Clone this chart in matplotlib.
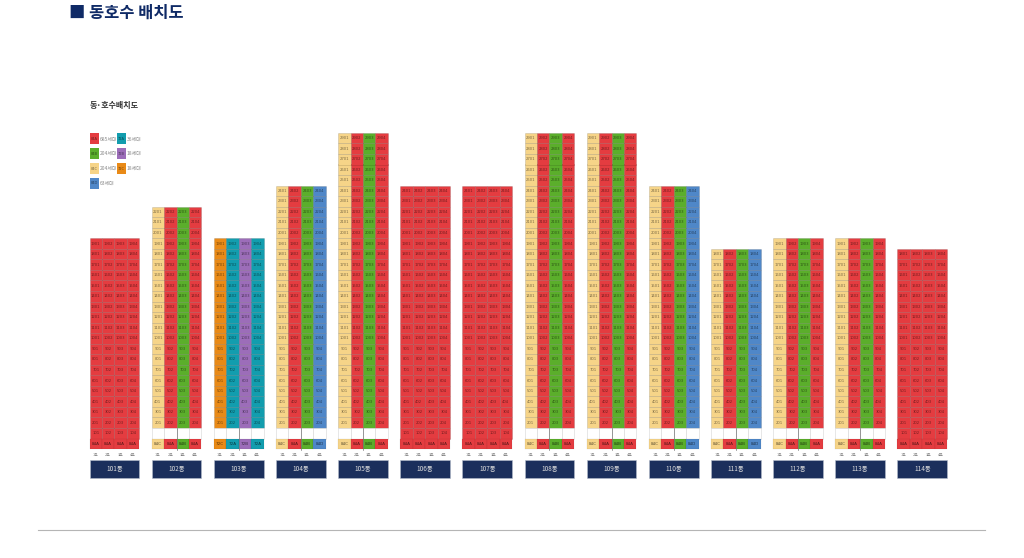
import matplotlib
matplotlib.use('Agg')
import matplotlib.pyplot as plt
from matplotlib.patches import Rectangle

plt.rcParams['font.family'] = ['Noto Sans CJK KR', 'DejaVu Sans']

# 동 정보
dong_names = ['101동', '102동', '103동', '104동', '105동', '106동', '107동',
              '108동', '109동', '110동', '111동', '112동', '113동', '114동']
low_floors = [1, 2, 2, 2, 2, 1, 1, 2, 2, 2, 2, 2, 2, 1]
top_floors = [19, 22, 19, 24, 29, 24, 24, 29, 29, 24, 18, 19, 19, 18]
dong_types = [
    ['84A', '84A', '84A', '84A'],
    ['84C', '84A', '84B', '84A'],
    ['72C', '72A', '72B', '72A'],
    ['84C', '84A', '84B', '84D'],
    ['84C', '84A', '84B', '84A'],
    ['84A', '84A', '84A', '84A'],
    ['84A', '84A', '84A', '84A'],
    ['84C', '84A', '84B', '84A'],
    ['84C', '84A', '84B', '84A'],
    ['84C', '84A', '84B', '84D'],
    ['84C', '84A', '84B', '84D'],
    ['84C', '84A', '84B', '84A'],
    ['84C', '84A', '84B', '84A'],
    ['84A', '84A', '84A', '84A'],
]
ho_labels = ['1호', '2호', '3호', '4호']

# 타입별 색상, 세대수
type_colors = {'84A': '#E43C40', '84B': '#5BAE2B', '84C': '#F6D488', '84D': '#4F87C8',
               '72A': '#129DAE', '72B': '#9C6DB9', '72C': '#E98A17'}
legend_left = [('84A', '685세대'), ('84B', '204세대'), ('84C', '204세대'), ('84D', '63세대')]
legend_right = [('72A', '36세대'), ('72B', '18세대'), ('72C', '18세대')]

NAVY = '#1B2F5C'
COL_PX = 12.43
ROW_PX = 10.54

fig = plt.figure(figsize=(10.24, 5.58), dpi=100)
# 축 단위: x는 세대 칸, y는 층. 픽셀에 맞게 범위 설정
ax = fig.add_axes([0, 0, 1, 1])
ax.set_xlim(-89.5 / COL_PX, (1024 - 89.5) / COL_PX)
ax.set_ylim(1 - 130 / ROW_PX, 1 + 428 / ROW_PX)
ax.axis('off')

for i, name in enumerate(dong_names):
    x0 = i * 5
    for c, t in enumerate(dong_types[i]):
        color = type_colors[t]
        x = x0 + c
        for floor in range(low_floors[i], top_floors[i] + 1):
            ax.add_patch(Rectangle((x, floor - 1), 1, 1, fc=color, ec='#00000030', lw=0.4))
            ax.text(x + 0.5, floor - 0.5, f'{floor}{c + 1:02d}', ha='center', va='center',
                    fontsize=2.7, color='#00000080', family='Liberation Sans Narrow')
        # 필로티 칸
        if low_floors[i] == 2:
            ax.add_patch(Rectangle((x, 0), 1, 1, fc='white', ec='#D5D5D5', lw=0.4))
        # 타입 행
        ax.add_patch(Rectangle((x, -1), 1, 0.95, fc=color, ec='#00000020', lw=0.3))
        ax.text(x + 0.5, -0.52, t, ha='center', va='center', fontsize=3.0,
                color='#000000A0', family='Liberation Sans Narrow')
        # 호 행
        ax.text(x + 0.5, -1.6, ho_labels[c], ha='center', va='center', fontsize=2.8,
                color='#777777')
    if low_floors[i] == 2:
        ax.plot([x0 + 2, x0 + 2], [-1.1, 1], color='#777777', lw=0.5)
    ax.add_patch(Rectangle((x0, -3.73), 4, 1.68, fc=NAVY, ec='#B5BDCB', lw=0.4))
    ax.text(x0 + 2, -2.88, name, ha='center', va='center', fontsize=4.6, color='#DDDDDD')

# 제목
fig.text(69 / 1024, 1 - 12.5 / 558, '■ 동호수 배치도', ha='left', va='center', fontsize=11.8,
         fontweight='bold', color='#0F2A66')
fig.text(90 / 1024, 1 - 105 / 558, '동·호수배치도', ha='left', va='center', fontsize=5.8,
         fontweight='bold', color='#333333')


def draw_legend(items, x_swatch, x_text):
    for row, (t, label) in enumerate(items):
        y = 139 + row * 14.8
        fig.patches.append(Rectangle((x_swatch / 1024, 1 - (y + 5.5) / 558), 8.5 / 1024, 11 / 558,
                                     transform=fig.transFigure, fc=type_colors[t], ec='none'))
        fig.text((x_swatch + 4.2) / 1024, 1 - y / 558, t, ha='center', va='center', fontsize=2.6,
                 color='#00000080', family='Liberation Sans Narrow')
        fig.text(x_text / 1024, 1 - y / 558, label, ha='left', va='center', fontsize=3.6, color='#8A8A8A')


draw_legend(legend_left, 90, 100)
draw_legend(legend_right, 117, 127)

# 하단 구분선
ax.plot([38 / COL_PX - 89.5 / COL_PX, 985 / COL_PX - 89.5 / COL_PX],
        [1 - 102 / ROW_PX, 1 - 102 / ROW_PX], color='#B5B5B5', lw=0.8)

fig.savefig('out.png', dpi=100)
